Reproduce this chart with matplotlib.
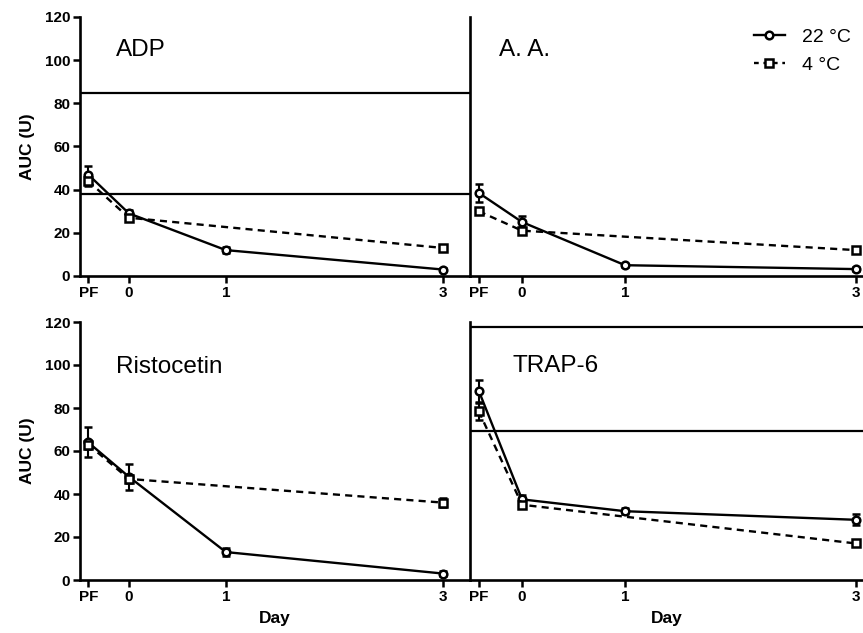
import matplotlib
matplotlib.use("Agg")
import matplotlib.pyplot as plt
import numpy as np
from matplotlib.lines import Line2D

plt.rcParams['font.family'] = ['Liberation Sans', 'DejaVu Sans']

# x tick categories and their positions on the day axis
day_labels = ["PF", "0", "1", "3"]
day_x = [-0.42, 0, 1, 3.24]

panels = ["ADP", "A. A.", "Ristocetin", "TRAP-6"]

# AUC means / SEM, 22 °C
adp_22 = [47, 29, 12, 3]
adp_22_err = [4, 1.5, 1.5, 0.6]
aa_22 = [38.5, 25, 5, 3.2]
aa_22_err = [4, 3, 0.6, 1]
ris_22 = [64, 48, 13, 3]
ris_22_err = [7, 6, 2, 1]
trap_22 = [88, 37.5, 32, 28]
trap_22_err = [5, 2, 1.5, 2.5]

# AUC means / SEM, 4 °C (no day-1 sample)
adp_4 = [44, 27, np.nan, 13]
adp_4_err = [2.5, 1.5, np.nan, 1.5]
aa_4 = [30, 21, np.nan, 12]
aa_4_err = [1.5, 1.5, np.nan, 1]
ris_4 = [63, 47, np.nan, 36]
ris_4_err = [2, 2, np.nan, 2]
trap_4 = [78.5, 35, np.nan, 17]
trap_4_err = [4, 1.5, np.nan, 1]

# reference range lines
ref_lines = {"ADP": [85, 38], "A. A.": [], "Ristocetin": [], "TRAP-6": [117.5, 69.3]}

series_22 = [(adp_22, adp_22_err), (aa_22, aa_22_err), (ris_22, ris_22_err), (trap_22, trap_22_err)]
series_4 = [(adp_4, adp_4_err), (aa_4, aa_4_err), (ris_4, ris_4_err), (trap_4, trap_4_err)]

W, H = 863, 633
fig = plt.figure(figsize=(W / 100, H / 100), dpi=100)

# axes rectangles in pixels: left, top, right, bottom
rects = [(80, 17, 470, 276), (470, 17, 863, 276),
         (80, 322, 470, 580), (470, 322, 863, 580)]
xlims = [(-0.505, 3.52), (-0.505, 3.31), (-0.505, 3.52), (-0.505, 3.31)]
title_pos = [(0.092, 0.873), (0.074, 0.873), (0.092, 0.826), (0.107, 0.829)]

for i, name in enumerate(panels):
    l, t, r, b = rects[i]
    ax = fig.add_axes([l / W, (H - b) / H, (r - l) / W, (b - t) / H])
    ax.set_xlim(*xlims[i])
    ax.set_ylim(0, 120)
    for s in ["top", "right"]:
        ax.spines[s].set_visible(False)
    for s in ["left", "bottom"]:
        ax.spines[s].set_linewidth(1.9)

    for yv in ref_lines[name]:
        ax.axhline(yv, color="black", lw=1.6, zorder=1)

    x = np.array(day_x)
    y, e = [np.array(v, dtype=float) for v in series_22[i]]
    ax.errorbar(x, y, yerr=e, color="black", lw=1.7, marker="o", ms=5.5,
                mfc="white", mec="black", mew=1.8, capsize=3, capthick=1.5,
                elinewidth=1.5, clip_on=False, zorder=3)
    y, e = [np.array(v, dtype=float) for v in series_4[i]]
    m = ~np.isnan(y)
    ax.errorbar(x[m], y[m], yerr=e[m], color="black", lw=1.7, ls=(0, (3, 2.2)),
                marker="s", ms=5.5, mfc="white", mec="black", mew=1.8,
                capsize=3, capthick=1.5, elinewidth=1.5, clip_on=False, zorder=3)

    ax.set_xticks(day_x)
    ax.set_xticklabels(day_labels, fontsize=11, fontweight="bold")
    ax.tick_params(axis="x", length=5, width=1.8, pad=2)
    if i % 2 == 0:
        ax.set_yticks(np.arange(0, 121, 20))
        ax.tick_params(axis="y", length=5, width=1.8, labelsize=11, pad=2)
        for lab in ax.get_yticklabels():
            lab.set_fontweight("bold")
        ax.set_ylabel("AUC (U)", fontsize=12.5, fontweight="bold", labelpad=7)
    else:
        ax.set_yticks([])
    if i >= 2:
        ax.set_xlabel("Day", fontsize=12.5, fontweight="bold", labelpad=5)

    ax.text(title_pos[i][0], title_pos[i][1], name, transform=ax.transAxes,
            fontsize=17.5, va="center", ha="left")

handles = [
    Line2D([], [], color="black", lw=1.7, marker="o", ms=5.5, mfc="white", mew=1.8),
    Line2D([], [], color="black", lw=1.7, ls=(0, (2, 2)), marker="s", ms=5.5, mfc="white", mew=1.8),
]
fig.legend(handles, ["22 °C", "4 °C"], loc="upper right", bbox_to_anchor=(1.0, 0.974),
           frameon=False, fontsize=14, handlelength=1.6, handletextpad=0.9,
           labelspacing=0.55, borderaxespad=0.2)

fig.savefig("out.png", dpi=100)
